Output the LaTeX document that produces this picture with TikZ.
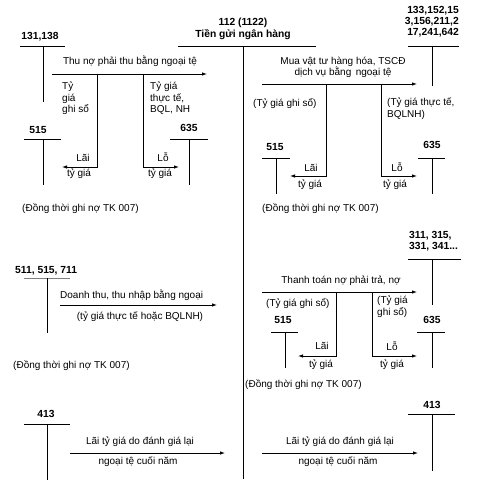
\documentclass[tikz,border=0pt]{standalone}
\usepackage{fontspec}
\setmainfont{Liberation Sans}
\usetikzlibrary{arrows.meta}
\begin{document}
\begin{tikzpicture}[x=1pt,y=-1pt,
  txt/.style={inner sep=0pt, font=\fontsize{10}{11.5}\selectfont, align=left},
  acc/.style={inner sep=0pt, font=\fontsize{10.3}{11.3}\selectfont\bfseries},
  ln/.style={line width=0.8pt},
  arr/.style={line width=0.8pt,-{Latex[length=5pt,width=3.5pt]}}]
\useasboundingbox (0,0) rectangle (477,486);
% main account 112
\node[acc, align=center] (t112) at (243,29) {112 (1122)\\Tiền gửi ngân hàng};
\coordinate (m1) at (178,46); \coordinate (m2) at (316,46);
\coordinate (mv) at (243,46); \coordinate (mb) at (243,479);
\draw[ln] (m1) -- (m2); \draw[ln] (mv) -- (mb);

% ---- top left
\node[acc] (a131) at (40,37) {131,138};
\coordinate (a131l) at (20,46); \coordinate (a131r) at (65,46);
\coordinate (a131t) at (43,46); \coordinate (a131b) at (43,102);
\draw[ln] (a131l) -- (a131r); \draw[ln] (a131t) -- (a131b);
\coordinate (p1s) at (52,74); \coordinate (p1e) at (207,74);
\draw[arr] (p1s) -- (p1e);
\node[txt] (p1t) at (130,61) {Thu nợ phải thu bằng ngoại tệ};
\coordinate (q1) at (97,74); \coordinate (q1b) at (97,167); \coordinate (q1e) at (62,167);
\draw[arr] (q1) -- (q1b) -- (q1e);
\coordinate (r1) at (143,74); \coordinate (r1b) at (143,167); \coordinate (r1e) at (179,167);
\draw[arr] (r1) -- (r1b) -- (r1e);
\node[txt, anchor=north west] (tg1) at (62,82) {Tỷ\\giá\\ghi sổ};
\node[txt, anchor=north west] (tt1) at (150,82) {Tỷ giá\\thực tế,\\BQL, NH};
\node[acc] (a515a) at (38,130) {515};
\coordinate (a515al) at (24,139); \coordinate (a515ar) at (61,139);
\coordinate (a515at) at (43,139); \coordinate (a515ab) at (43,185);
\draw[ln] (a515al) -- (a515ar); \draw[ln] (a515at) -- (a515ab);
\node[acc] (a635a) at (189,128) {635};
\coordinate (a635al) at (170,139); \coordinate (a635ar) at (208,139);
\coordinate (a635at) at (189,139); \coordinate (a635ab) at (189,185);
\draw[ln] (a635al) -- (a635ar); \draw[ln] (a635at) -- (a635ab);
\node[txt] (lai1) at (83,158) {Lãi};
\node[txt] (tg1b) at (79,174) {tỷ giá};
\node[txt] (lo1) at (163,157) {Lỗ};
\node[txt] (tg1c) at (160,174) {tỷ giá};
\node[txt, anchor=west] (dt1) at (22,209) {(Đồng thời ghi nợ TK 007)};

% ---- top right
\node[acc, anchor=north east, align=right] (a133) at (459,6) {133,152,15\\3,156,211,2\\17,241,642};
\coordinate (a133l) at (408,46); \coordinate (a133r) at (459,46);
\coordinate (a133t) at (432,46); \coordinate (a133b) at (432,86);
\draw[ln] (a133l) -- (a133r); \draw[ln] (a133t) -- (a133b);
\coordinate (p2s) at (262,84); \coordinate (p2e) at (417,84);
\draw[arr] (p2s) -- (p2e);
\node[txt, align=center] (p2t) at (343,67.5) {Mua vật tư hàng hóa, TSCĐ\\dịch vụ bằng\, ngoại tệ};
\coordinate (q2) at (326,84); \coordinate (q2b) at (326,176); \coordinate (q2e) at (290,176);
\draw[arr] (q2) -- (q2b) -- (q2e);
\coordinate (r2) at (381,84); \coordinate (r2b) at (381,176); \coordinate (r2e) at (417,176);
\draw[arr] (r2) -- (r2b) -- (r2e);
\node[txt, anchor=west] (tg2) at (253,104) {(Tỷ giá ghi sổ)};
\node[txt, anchor=north west] (tt2) at (387,98) {(Tỷ giá thực tế,\\BQLNH)};
\node[acc] (a515b) at (275,147) {515};
\coordinate (a515bl) at (262,158); \coordinate (a515br) at (290,158);
\coordinate (a515bt) at (276,158); \coordinate (a515bb) at (276,194);
\draw[ln] (a515bl) -- (a515br); \draw[ln] (a515bt) -- (a515bb);
\node[acc] (a635b) at (432,145) {635};
\coordinate (a635bl) at (418,158); \coordinate (a635br) at (445,158);
\coordinate (a635bt) at (432,158); \coordinate (a635bb) at (432,194);
\draw[ln] (a635bl) -- (a635br); \draw[ln] (a635bt) -- (a635bb);
\node[txt] (lai2) at (311,168) {Lãi};
\node[txt] (tg2b) at (310,185) {tỷ giá};
\node[txt] (lo2) at (397,167) {Lỗ};
\node[txt] (tg2c) at (395,185) {tỷ giá};
\node[txt, anchor=west] (dt2) at (262,209) {(Đồng thời ghi nợ TK 007)};

% ---- middle left
\node[acc, anchor=west] (a511) at (15,271) {511, 515, 711};
\coordinate (a511l) at (24,278); \coordinate (a511r) at (70,278);
\coordinate (a511t) at (47,278); \coordinate (a511b) at (47,333);
\draw[line width=0.5pt, gray] (a511l) -- (a511r); \draw[ln] (a511t) -- (a511b);
\coordinate (p3s) at (60,305); \coordinate (p3e) at (217,305);
\draw[arr] (p3s) -- (p3e);
\node[txt, anchor=west] (p3t) at (60,295) {Doanh thu, thu nhập bằng ngoại};
\node[txt] (p3u) at (140,317) {(tỷ giá thực tế hoặc BQLNH)};
\node[txt, anchor=west] (dt3) at (13,366) {(Đồng thời ghi nợ TK 007)};

% ---- middle right
\node[acc, anchor=north west, align=left] (a311) at (409,231) {311, 315,\\331, 341...};
\coordinate (a311l) at (408,259); \coordinate (a311r) at (461,259);
\coordinate (a311t) at (432,259); \coordinate (a311b) at (432,305);
\draw[ln] (a311l) -- (a311r); \draw[ln] (a311t) -- (a311b);
\coordinate (p4s) at (262,292); \coordinate (p4e) at (417,292);
\draw[arr] (p4s) -- (p4e);
\node[txt] (p4t) at (341,281) {Thanh toán nợ phải trả, nợ};
\coordinate (q4) at (336,292); \coordinate (q4b) at (336,356); \coordinate (q4e) at (298,356);
\draw[arr] (q4) -- (q4b) -- (q4e);
\coordinate (r4) at (372,292); \coordinate (r4b) at (372,356); \coordinate (r4e) at (417,356);
\draw[arr] (r4) -- (r4b) -- (r4e);
\node[txt, anchor=west] (tg4) at (266,303) {(Tỷ giá ghi sổ)};
\node[txt, anchor=north west] (tt4) at (377,296) {(Tỷ giá\\ghi sổ)};
\node[acc] (a515c) at (283,320) {515};
\coordinate (a515cl) at (271,332); \coordinate (a515cr) at (298,332);
\coordinate (a515ct) at (285,332); \coordinate (a515cb) at (285,368);
\draw[ln] (a515cl) -- (a515cr); \draw[ln] (a515ct) -- (a515cb);
\node[acc] (a635c) at (432,320) {635};
\coordinate (a635cl) at (417,332); \coordinate (a635cr) at (445,332);
\coordinate (a635ct) at (432,332); \coordinate (a635cb) at (432,368);
\draw[ln] (a635cl) -- (a635cr); \draw[ln] (a635ct) -- (a635cb);
\node[txt] (lai4) at (322,346) {Lãi};
\node[txt] (tg4b) at (321,365) {tỷ giá};
\node[txt] (lo4) at (392,346) {Lỗ};
\node[txt] (tg4c) at (392,365) {tỷ giá};
\node[txt, anchor=west] (dt4) at (245,385) {(Đồng thời ghi nợ TK 007)};

% ---- bottom left
\node[acc] (a413a) at (46,414) {413};
\coordinate (a413al) at (24,424); \coordinate (a413ar) at (70,424);
\coordinate (a413at) at (47,424); \coordinate (a413ab) at (47,480);
\draw[ln] (a413al) -- (a413ar); \draw[ln] (a413at) -- (a413ab);
\coordinate (p5s) at (70,453); \coordinate (p5e) at (225,453);
\draw[arr] (p5s) -- (p5e);
\node[txt] (p5t) at (140,442) {Lãi tỷ giá do đánh giá lại};
\node[txt] (p5u) at (138,462) {ngoại tệ cuối năm};

% ---- bottom right
\node[acc] (a413b) at (432,405) {413};
\coordinate (a413bl) at (408,414); \coordinate (a413br) at (455,414);
\coordinate (a413bt) at (432,414); \coordinate (a413bb) at (432,471);
\draw[ln] (a413bl) -- (a413br); \draw[ln] (a413bt) -- (a413bb);
\coordinate (p6s) at (262,453); \coordinate (p6e) at (418,453);
\draw[arr] (p6s) -- (p6e);
\node[txt] (p6t) at (340,442) {Lãi tỷ giá do đánh giá lại};
\node[txt] (p6u) at (338,462) {ngoại tệ cuối năm};
\end{tikzpicture}
\end{document}
